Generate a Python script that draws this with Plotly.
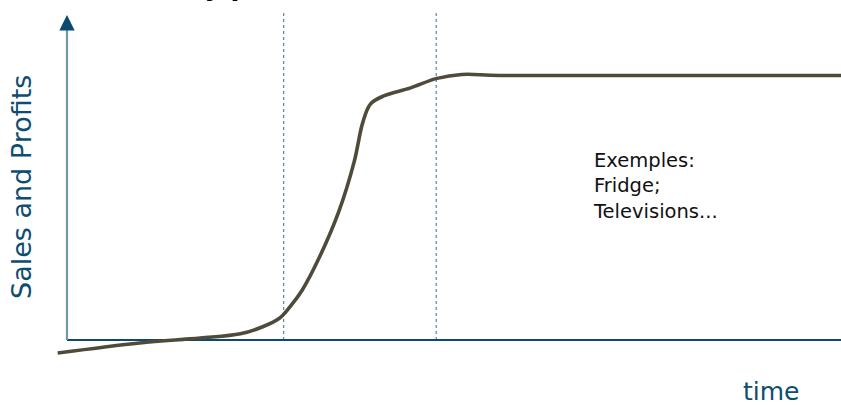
import plotly.graph_objects as go

# Curve data (time units 0-100, sales units 0-100)
time_vals = [-1.2, 9.4, 17.2, 22.4, 25.2, 27.4, 28.8, 30.4, 32.7, 35.1, 37.1, 38.2,
             39.2, 41.0, 44.3, 47.8, 51.0, 55.9, 100.0]
sales_vals = [-4.0, -0.9, 0.6, 1.9, 4.0, 6.6, 10.2, 15.4, 25.9, 39.4, 54.8, 66.8,
              72.6, 75.2, 77.5, 80.5, 81.7, 81.4, 81.4]
phase_bounds = [28.0, 47.7]
axis_top = 100.0
dotted_top = 101.5

title_text = "Maturity phase"
y_label = "Sales and Profits"
x_label = "time"
note_text = "Exemples:<br>Fridge;<br>Televisions..."

fig = go.Figure()
fig.add_trace(go.Scatter(
    x=time_vals, y=sales_vals, mode="lines",
    line=dict(color="#4f4b3b", width=3.6, shape="spline", smoothing=1.0),
    hoverinfo="skip", showlegend=False))

shapes = []
for xb in phase_bounds:
    shapes.append(dict(type="line", xref="x", yref="y", x0=xb, x1=xb, y0=0, y1=dotted_top,
                       line=dict(color="#2f6a93", width=1, dash="dot"), layer="below"))
# x axis line
shapes.append(dict(type="line", xref="x", yref="y", x0=0, x1=100, y0=0, y1=0,
                   line=dict(color="#0f4a6e", width=2), layer="below"))
# y axis line
shapes.append(dict(type="line", xref="x", yref="y", x0=0, x1=0, y0=0, y1=axis_top - 2,
                   line=dict(color="#6f98ad", width=2.2), layer="below"))

W, H = 841, 405

def px(x, y):
    return x / W, 1 - y / H

annotations = [
    dict(x=0, y=axis_top, ax=0, ay=axis_top - 4, xref="x", yref="y", axref="x", ayref="y",
         showarrow=True, arrowhead=2, arrowsize=1.4, arrowwidth=2.2, arrowcolor="#0b4a6f", text=""),
]
lx, ly = px(22, 187)
annotations.append(dict(x=lx, y=ly, xref="paper", yref="paper", text=y_label, showarrow=False,
                        textangle=-90, xanchor="center", yanchor="middle",
                        font=dict(family="DejaVu Sans", size=27, color="#0e4d70")))
tx, ty = px(771, 391)
annotations.append(dict(x=tx, y=ty, xref="paper", yref="paper", text=x_label, showarrow=False,
                        xanchor="center", yanchor="middle", borderpad=0,
                        font=dict(family="DejaVu Sans", size=25, color="#0e4d70")))
nx, ny = px(591, 147)
annotations.append(dict(x=nx, y=ny, xref="paper", yref="paper", text=note_text, showarrow=False,
                        align="left", xanchor="left", yanchor="top",
                        font=dict(family="DejaVu Sans", size=19.5, color="#111111")))
hx, hy = px(94, 3)
annotations.append(dict(x=hx, y=hy, xref="paper", yref="paper", text="<b>" + title_text + "</b>",
                        showarrow=False, xanchor="left", yanchor="bottom",
                        font=dict(family="DejaVu Sans", size=26, color="#000000")))

fig.update_layout(
    width=W, height=H,
    margin=dict(l=0, r=0, t=0, b=0),
    paper_bgcolor="white", plot_bgcolor="white",
    xaxis=dict(range=[-67 / 7.74, 100], visible=False, fixedrange=True),
    yaxis=dict(range=[-65 / 3.25, 340 / 3.25], visible=False, fixedrange=True),
    shapes=shapes,
    annotations=annotations,
)

fig.write_html("out.html")
